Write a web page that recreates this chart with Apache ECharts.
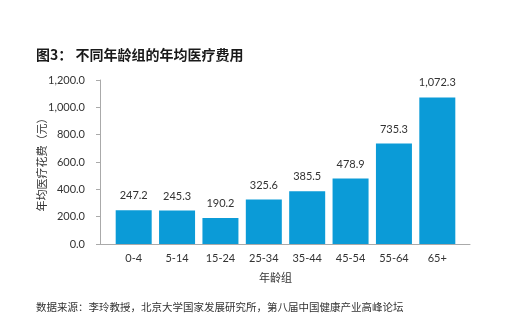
<!DOCTYPE html>
<html>
<head>
<meta charset="utf-8">
<script src="https://cdn.jsdelivr.net/npm/echarts@6/dist/echarts.min.js"></script>
<style>
  html, body { margin: 0; padding: 0; background: #fff; }
  #chart { width: 510px; height: 323px; }
</style>
</head>
<body>
<div id="chart"></div>
<script>
// Annual medical spending per person by age group (yuan)
const ageGroups = ['0-4', '5-14', '15-24', '25-34', '35-44', '45-54', '55-64', '65+'];
const annualCost = [247.2, 245.3, 190.2, 325.6, 385.5, 478.9, 735.3, 1072.3];
const yTicks = { min: 0, max: 1200, interval: 200 };

const titleText = '图3： 不同年龄组的年均医疗费用';
const xName = '年龄组';
const yName = '年均医疗花费（元）';
const sourceText = '数据来源：李玲教授，北京大学国家发展研究所，第八届中国健康产业高峰论坛';

const numFont = 'Lato, "Noto Sans CJK SC", sans-serif';
const cjkFont = '"Noto Sans CJK SC", sans-serif';
const fmt = v => v.toLocaleString('en-US', { minimumFractionDigits: 1, maximumFractionDigits: 1 });

const chart = echarts.init(document.getElementById('chart'), null, { renderer: 'canvas' });
chart.setOption({
  animation: false,
  backgroundColor: '#ffffff',
  title: [
    { text: titleText, left: 31, top: 43,
      textStyle: { fontFamily: cjkFont, fontSize: 14, fontWeight: 'bold', color: '#1a1a1a' } },
    { text: xName, left: 254, top: 267,
      textStyle: { fontFamily: cjkFont, fontSize: 11, fontWeight: 'normal', color: '#333' } },
    { text: sourceText, left: 31, top: 297,
      textStyle: { fontFamily: cjkFont, fontSize: 10.5, fontWeight: 'normal', color: '#333' } }
  ],
  grid: [
    { left: 112, right: 51, top: 80, bottom: 79 },
    { left: 97, right: 40, top: 80, bottom: 79 }
  ],
  xAxis: [
    { type: 'category', gridIndex: 0, data: ageGroups,
      axisLine: { show: false }, axisTick: { show: false },
      axisLabel: { margin: 9, fontFamily: numFont, fontSize: 11, color: '#333' } },
    // baseline running across the full plot width
    { type: 'value', gridIndex: 1, min: 0, max: 1,
      axisLine: { show: true, lineStyle: { color: '#aaaaaa', width: 1 } },
      axisTick: { show: false }, axisLabel: { show: false }, splitLine: { show: false } }
  ],
  yAxis: [
    { type: 'value', gridIndex: 0, min: yTicks.min, max: yTicks.max, interval: yTicks.interval,
      offset: 12,
      name: yName, nameLocation: 'middle', nameRotate: 90, nameGap: 53,
      nameMoveOverlap: false,
      nameTextStyle: { fontFamily: cjkFont, fontSize: 11, color: '#333' },
      axisLine: { show: true, lineStyle: { color: '#aaaaaa' } },
      axisTick: { show: true, length: 4, lineStyle: { color: '#aaaaaa' } },
      splitLine: { show: false },
      axisLabel: { margin: 15, fontFamily: numFont, fontSize: 11, color: '#333', formatter: fmt } },
    { type: 'value', gridIndex: 1, show: false, min: 0, max: 1 }
  ],
  series: [{
    type: 'bar', xAxisIndex: 0, yAxisIndex: 0,
    data: annualCost, barWidth: 36,
    itemStyle: { color: '#0b9bd7' },
    label: { show: true, position: 'top', distance: 9, formatter: p => fmt(p.value),
      fontFamily: numFont, fontSize: 11, color: '#333' }
  }]
});
</script>
</body>
</html>
